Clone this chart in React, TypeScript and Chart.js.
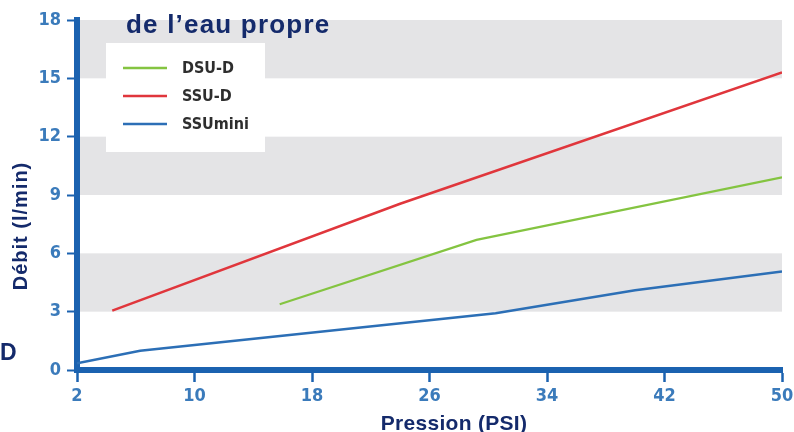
import React, { useEffect, useRef } from "react";
import { Chart, registerables } from "chart.js";

Chart.register(...registerables);

// ---- data ----
const seriesNames = ["DSU-D", "SSU-D", "SSUmini"];
const dsuDX = [15.8, 29.2, 50];
const dsuDY = [3.38, 6.69, 9.91];
const ssuDX = [4.4, 24, 50];
const ssuDY = [3.05, 8.55, 15.3];
const ssuMiniX = [2, 6.3, 30.5, 40, 50];
const ssuMiniY = [0.34, 0.99, 2.92, 4.1, 5.06];
const xTicks = [2, 10, 18, 26, 34, 42, 50];
const yTicks = [0, 3, 6, 9, 12, 15, 18];
const bandStarts = [3, 9, 15];
const titleText = "de l\u2019eau propre";
const sideLetter = "D";
const xTitle = "Pression (PSI)";
const yTitle = "Débit (l/min)";

const NAVY = "#142a6b";
const AXIS = "#1b62b0";
const TICK = "#3b7bbb";
const GREEN = "#84c441";
const RED = "#e0363c";
const BLUE = "#2c6fb6";

const pts = (xs: number[], ys: number[]) => xs.map((x, i) => ({ x, y: ys[i] }));

const decor = {
  id: "decor",
  beforeDraw(chart: any) {
    const { ctx, chartArea, scales } = chart;
    const y = scales.y;
    ctx.save();
    ctx.fillStyle = "#e4e4e6";
    for (const b of bandStarts) {
      const top = y.getPixelForValue(b + 3);
      const bot = y.getPixelForValue(b);
      ctx.fillRect(chartArea.left, top, chartArea.right - chartArea.left, bot - top);
    }
    ctx.restore();
  },
  afterDraw(chart: any) {
    const { ctx } = chart;
    ctx.save();
    // legend
    ctx.fillStyle = "#ffffff";
    ctx.fillRect(106, 43, 159, 109);
    const rows = [68, 96, 124];
    chart.data.datasets.forEach((ds: any, i: number) => {
      ctx.strokeStyle = ds.borderColor;
      ctx.lineWidth = 2.5;
      ctx.beginPath();
      ctx.moveTo(123, rows[i]);
      ctx.lineTo(167, rows[i]);
      ctx.stroke();
      ctx.fillStyle = "#2e2e2e";
      ctx.font = 'bold 16px "DejaVu Sans Condensed"';
      ctx.textAlign = "left";
      ctx.textBaseline = "middle";
      ctx.fillText(ds.label, 182, rows[i] + 1);
    });
    // titles
    ctx.fillStyle = NAVY;
    ctx.textBaseline = "alphabetic";
    ctx.textAlign = "left";
    (ctx as any).letterSpacing = "1.2px";
    ctx.font = 'bold 26px "Liberation Sans"';
    ctx.fillText(titleText, 126, 33);
    (ctx as any).letterSpacing = "0px";
    ctx.font = 'bold 23px "Liberation Sans"';
    ctx.fillText(sideLetter, 0, 360);
    (ctx as any).letterSpacing = "0.3px";
    ctx.font = 'bold 21px "Liberation Sans"';
    ctx.textAlign = "center";
    ctx.fillText(xTitle, 454, 430);
    (ctx as any).letterSpacing = "1px";
    ctx.font = 'bold 20px "Liberation Sans"';
    ctx.translate(27, 226);
    ctx.rotate(-Math.PI / 2);
    ctx.fillText(yTitle, 0, 0);
    ctx.restore();
  },
};

export default function App() {
  const ref = useRef<HTMLCanvasElement | null>(null);
  useEffect(() => {
    if (!ref.current) return;
    const tickFont = { family: '"DejaVu Sans Condensed"', size: 18, weight: "bold" as const };
    const chart = new Chart(ref.current, {
      type: "line",
      data: {
        datasets: [
          { label: seriesNames[0], data: pts(dsuDX, dsuDY), borderColor: GREEN, borderWidth: 2.2, pointRadius: 0, tension: 0 },
          { label: seriesNames[1], data: pts(ssuDX, ssuDY), borderColor: RED, borderWidth: 2.5, pointRadius: 0, tension: 0 },
          { label: seriesNames[2], data: pts(ssuMiniX, ssuMiniY), borderColor: BLUE, borderWidth: 2.5, pointRadius: 0, tension: 0 },
        ],
      },
      options: {
        animation: false,
        responsive: false,
        devicePixelRatio: 1,
        layout: { padding: { left: 0, right: 12, top: 20, bottom: 0 } },
        plugins: { legend: { display: false }, tooltip: { enabled: false } },
        scales: {
          x: {
            type: "linear",
            min: xTicks[0],
            max: xTicks[xTicks.length - 1],
            afterBuildTicks: (s: any) => { s.ticks = xTicks.map((v) => ({ value: v })); },
            ticks: { color: TICK, font: tickFont, padding: 4, maxRotation: 0 },
            grid: { drawOnChartArea: false, drawTicks: true, tickLength: 12, tickColor: AXIS, tickWidth: 2.5 },
            border: { display: true, color: AXIS, width: 6 },
            afterFit: (s: any) => { s.height = 62; s.paddingLeft = 0; s.paddingRight = 0; },
          },
          y: {
            min: yTicks[0],
            max: yTicks[yTicks.length - 1],
            afterBuildTicks: (s: any) => { s.ticks = yTicks.map((v) => ({ value: v })); },
            ticks: { color: TICK, font: tickFont, padding: 6 },
            grid: { drawOnChartArea: false, drawTicks: true, tickLength: 10, tickColor: AXIS, tickWidth: 2 },
            border: { display: true, color: AXIS, width: 6 },
            afterFit: (s: any) => { s.width = 77; s.paddingTop = 0; s.paddingBottom = 0; },
          },
        },
      },
      plugins: [decor],
    });
    return () => chart.destroy();
  }, []);
  return (
    <div style={{ position: "fixed", left: 0, top: 0, width: 794, height: 432, background: "#fff" }}>
      <canvas ref={ref} width={794} height={432} style={{ width: 794, height: 432, display: "block" }} />
    </div>
  );
}
